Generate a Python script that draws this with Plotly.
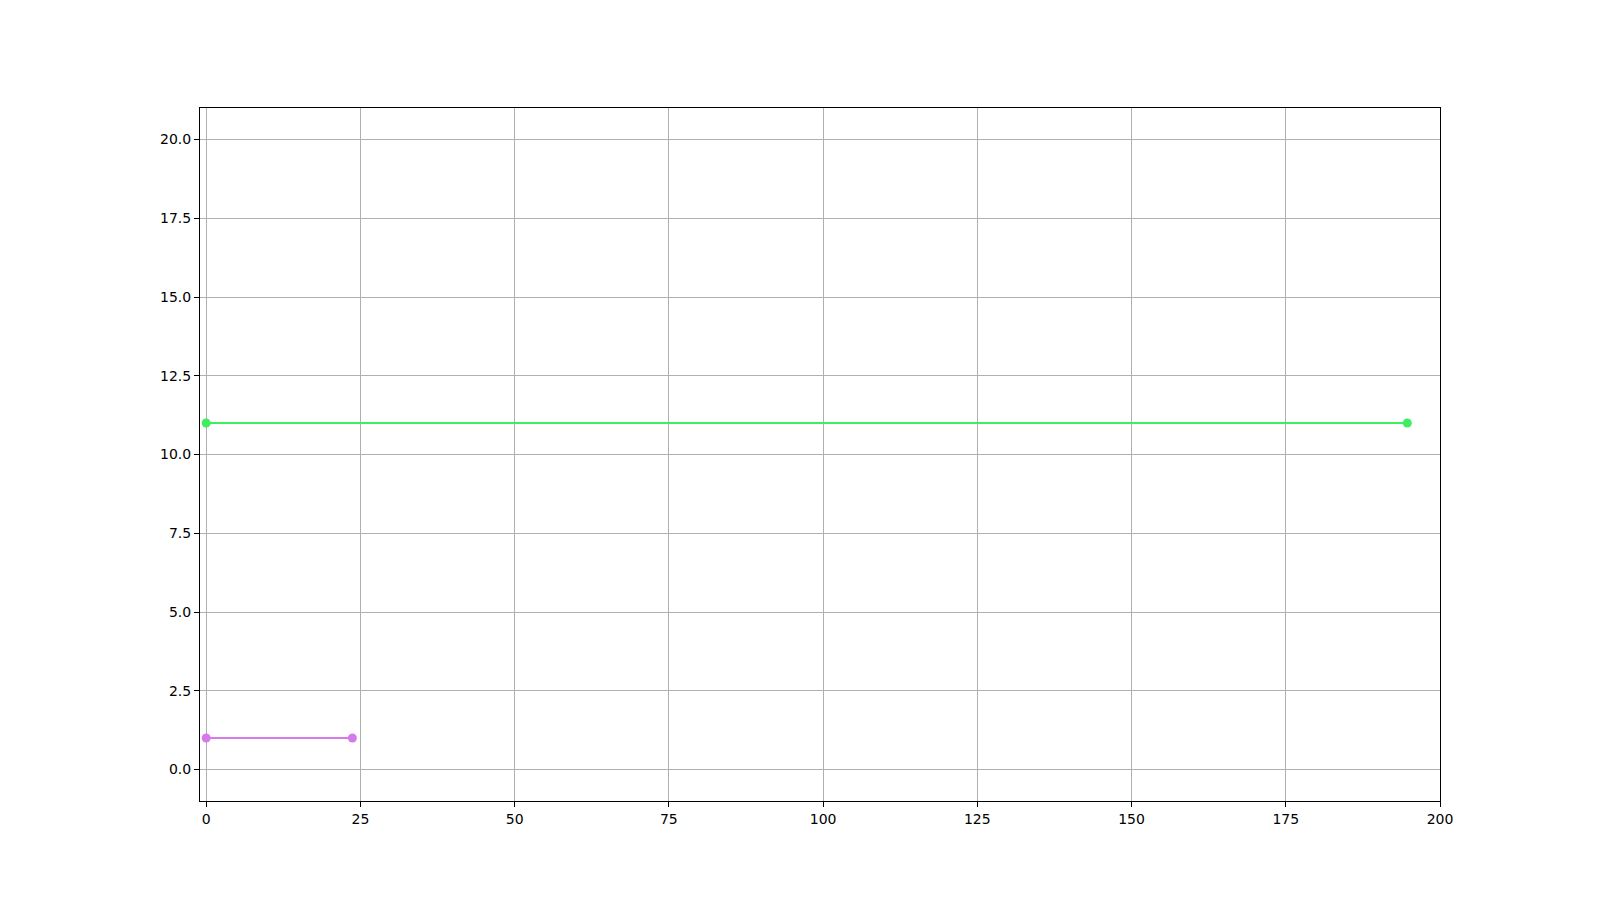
import plotly.graph_objects as go

# Data
series_names = ["purple", "green"]
purple_x = [0, 23.7]
purple_y = [1, 1]
green_x = [0, 194.7]
green_y = [11, 11]
x_ticks = [0, 25, 50, 75, 100, 125, 150, 175, 200]
y_ticks = [0.0, 2.5, 5.0, 7.5, 10.0, 12.5, 15.0, 17.5, 20.0]

fig = go.Figure()
fig.add_trace(go.Scatter(x=green_x, y=green_y, mode="lines+markers",
                         line=dict(color="#3dee5f", width=2),
                         marker=dict(color="#3dee5f", size=9), name=series_names[1]))
fig.add_trace(go.Scatter(x=purple_x, y=purple_y, mode="lines+markers",
                         line=dict(color="#d67aeb", width=2),
                         marker=dict(color="#d67aeb", size=9), name=series_names[0]))

axis_common = dict(showgrid=True, gridcolor="#b0b0b0", gridwidth=1.1,
                   showline=True, linecolor="black", linewidth=1.1, mirror=True,
                   ticks="outside", ticklen=5, tickwidth=1.1, tickcolor="black",
                   zeroline=False, tickfont=dict(family="DejaVu Sans", size=14, color="black"))

fig.update_xaxes(range=[-1, 200], tickvals=x_ticks, ticktext=[str(v) for v in x_ticks], **axis_common)
fig.update_yaxes(range=[-1, 21], tickvals=y_ticks, ticktext=[f"{v:.1f}" for v in y_ticks], **axis_common)

fig.update_layout(width=1584, height=884, showlegend=False,
                  plot_bgcolor="white", paper_bgcolor="white",
                  margin=dict(l=192, r=152, t=100, b=91))

fig.write_html("out.html")
